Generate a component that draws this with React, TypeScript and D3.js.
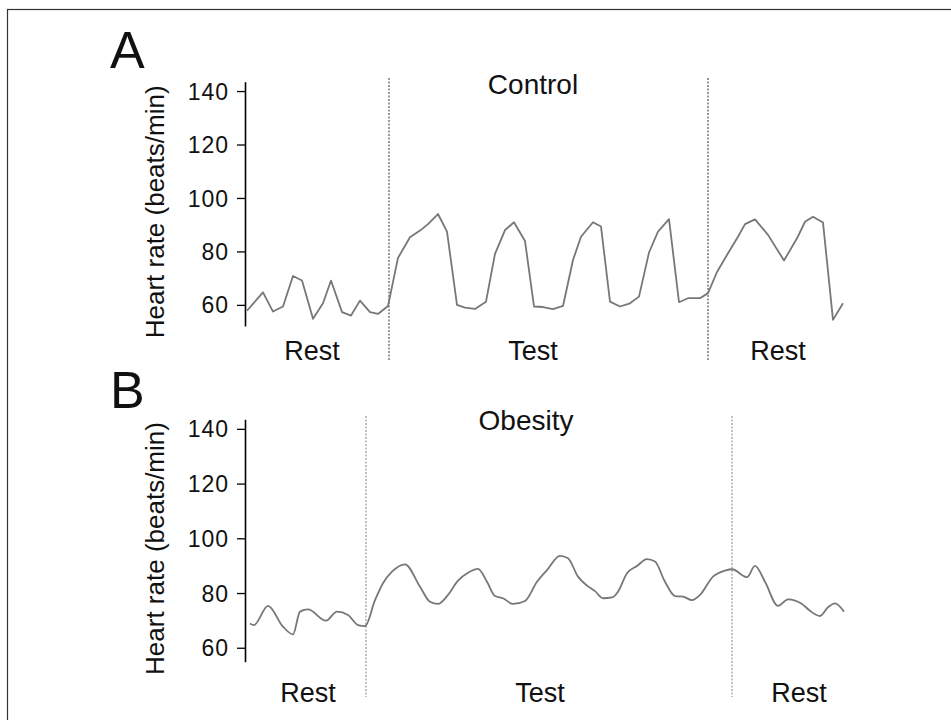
import React, { useEffect, useRef } from "react";
import * as d3 from "d3";

// Panel A (Control): time (a.u.) and heart rate (beats/min)
const controlTime = [0.2, 1.8, 2.8, 3.8, 4.8, 5.7, 6.8, 7.8, 8.6, 9.7, 10.6, 11.5, 12.5, 13.3, 14.3, 15.3, 16.5, 17.5, 18.3, 19.3, 20.2, 21.2, 22.0, 23.0, 24.1, 25.0, 26.0, 26.9, 28.0, 28.9, 29.8, 30.8, 31.8, 32.8, 33.6, 34.8, 35.6, 36.5, 37.5, 38.5, 39.4, 40.4, 41.3, 42.4, 43.4, 44.3, 45.5, 46.3, 47.2, 48.3, 49.3, 50.0, 51.0, 52.3, 53.9, 55.2, 56.0, 56.8, 57.8, 58.8, 59.8];
const controlHR = [57.8, 64.7, 57.5, 59.4, 70.8, 69.1, 54.8, 60.6, 69.1, 57.3, 56.0, 61.6, 57.3, 56.6, 59.6, 77.6, 85.3, 87.8, 90.2, 94.0, 87.4, 60.0, 59.0, 58.5, 61.2, 79.1, 88.0, 90.9, 83.9, 59.4, 59.2, 58.4, 59.6, 76.8, 85.5, 90.9, 89.3, 61.2, 59.4, 60.6, 63.1, 79.6, 87.4, 92.1, 61.0, 62.5, 62.5, 64.4, 72.3, 79.3, 85.5, 90.2, 92.0, 86.2, 76.6, 84.9, 91.1, 93.0, 90.8, 54.4, 60.6];

// Panel B (Obesity)
const obesityTime = [0.5, 0.9, 2.3, 3.8, 4.8, 5.5, 6.3, 8.1, 9.2, 10.3, 11.3, 12.0, 13.0, 13.8, 14.7, 16.0, 17.5, 18.5, 19.3, 20.3, 21.3, 22.3, 23.3, 24.2, 25.0, 25.8, 26.8, 28.0, 29.2, 30.2, 31.5, 32.3, 33.3, 34.2, 35.0, 35.8, 36.7, 37.3, 38.2, 39.2, 40.2, 41.0, 42.0, 43.0, 43.8, 44.7, 45.5, 46.8, 48.0, 48.7, 50.2, 51.0, 52.0, 53.3, 54.3, 55.7, 56.5, 57.5, 58.3, 59.0, 59.9];
const obesityHR = [68.9, 68.3, 75.3, 67.7, 64.9, 73.2, 74.0, 69.9, 73.2, 72.0, 68.3, 67.9, 77.4, 83.6, 87.8, 90.5, 82.3, 76.8, 76.0, 79.3, 84.5, 87.4, 88.8, 84.1, 78.9, 78.1, 76.0, 77.1, 84.1, 88.4, 93.6, 92.7, 86.0, 82.7, 80.7, 78.1, 78.4, 80.5, 87.2, 89.9, 92.4, 91.5, 84.1, 78.9, 78.7, 77.4, 79.3, 86.0, 88.2, 88.7, 85.8, 89.9, 84.1, 75.3, 77.7, 76.0, 73.5, 71.6, 74.8, 76.2, 73.2];

const yTicks = [60, 80, 100, 120, 140];
const phaseLabels = ["Rest", "Test", "Rest"];
const controlBounds = [14.4, 46.3];
const obesityBounds = [12.1, 48.7];
const controlLabelT = [6.7, 28.8, 53.3];
const obesityLabelT = [6.3, 29.5, 55.4];

const FONT = "Liberation Sans, Arial, sans-serif";

interface PanelProps {
  letter: string;
  title: string;
  titleX: number;
  time: number[];
  hr: number[];
  bounds: number[];
  labelT: number[];
  yDomain: [number, number];
  yRange: [number, number];
  letterY: number;
  titleY: number;
  labelY: number;
  dotTop: number;
  dotBottom: number;
  dotColor: string;
  curve: d3.CurveFactory;
}

function Panel(p: PanelProps) {
  const axisRef = useRef<SVGGElement>(null);
  const x = d3.scaleLinear().domain([0, 60]).range([245, 845]);
  const y = d3.scaleLinear().domain(p.yDomain).range(p.yRange);
  const data = p.time.map((t, i) => [t, p.hr[i]] as [number, number]);
  const line = d3.line<[number, number]>().x((d) => x(d[0])).y((d) => y(d[1])).curve(p.curve);

  useEffect(() => {
    if (!axisRef.current) return;
    const g = d3.select(axisRef.current);
    g.selectAll("*").remove();
    g.call(
      d3.axisLeft(y).tickValues(yTicks).tickSize(8).tickSizeOuter(0).tickPadding(8).tickFormat(d3.format("d"))
    );
    g.select(".domain").attr("stroke", "#000").attr("stroke-width", 1.6);
    g.selectAll(".tick line").attr("stroke", "#000").attr("stroke-width", 1.3);
    g.selectAll(".tick text")
      .attr("font-family", FONT)
      .attr("font-size", 23)
      .attr("letter-spacing", 1)
      .attr("fill", "#111")
      .attr("dy", "0.35em");
  });

  const [y0, y1] = p.yRange;
  return (
    <g>
      <text x={110} y={p.letterY} fontFamily={FONT} fontSize={52} fill="#111">{p.letter}</text>
      <text x={164} y={(y0 + y1) / 2 + 8} fontFamily={FONT} fontSize={26} fill="#111" textAnchor="middle"
        transform={`rotate(-90 164 ${(y0 + y1) / 2 + 8})`}>Heart rate (beats/min)</text>
      <g ref={axisRef} transform={`translate(${x(0)},0)`} />
      {p.bounds.map((b, i) => (
        <line key={i} x1={x(b)} x2={x(b)} y1={p.dotTop} y2={p.dotBottom} stroke={p.dotColor}
          strokeWidth={1.2} strokeDasharray="2,1.5" />
      ))}
      <path d={line(data) || ""} fill="none" stroke="#777" strokeWidth={1.8} strokeLinejoin="round" />
      <text x={p.titleX} y={p.titleY} fontFamily={FONT} fontSize={28} fill="#111" textAnchor="middle">{p.title}</text>
      {phaseLabels.map((l, i) => (
        <text key={i} x={x(p.labelT[i])} y={p.labelY} fontFamily={FONT} fontSize={27} fill="#111" textAnchor="middle">{l}</text>
      ))}
    </g>
  );
}

export default function App() {
  return (
    <svg width={951} height={720} style={{ position: "absolute", left: 0, top: 0, background: "#fff" }}>
      <rect x={0} y={0} width={951} height={720} fill="#fff" />
      <rect x={7.5} y={9.5} width={1000} height={1000} fill="none" stroke="#333" strokeWidth={1.2} />
      <Panel letter="A" title="Control" titleX={533} time={controlTime} hr={controlHR}
        bounds={controlBounds} labelT={controlLabelT} yDomain={[52.1, 143.5]} yRange={[326, 81.7]}
        letterY={68} titleY={94} labelY={360} dotTop={78} dotBottom={360} dotColor="#555"
        curve={d3.curveLinear} />
      <Panel letter="B" title="Obesity" titleX={526} time={obesityTime} hr={obesityHR}
        bounds={obesityBounds} labelT={obesityLabelT} yDomain={[54.9, 143.5]} yRange={[661.7, 419.3]}
        letterY={408} titleY={430} labelY={702} dotTop={416} dotBottom={697} dotColor="#999"
        curve={d3.curveMonotoneX} />
    </svg>
  );
}
